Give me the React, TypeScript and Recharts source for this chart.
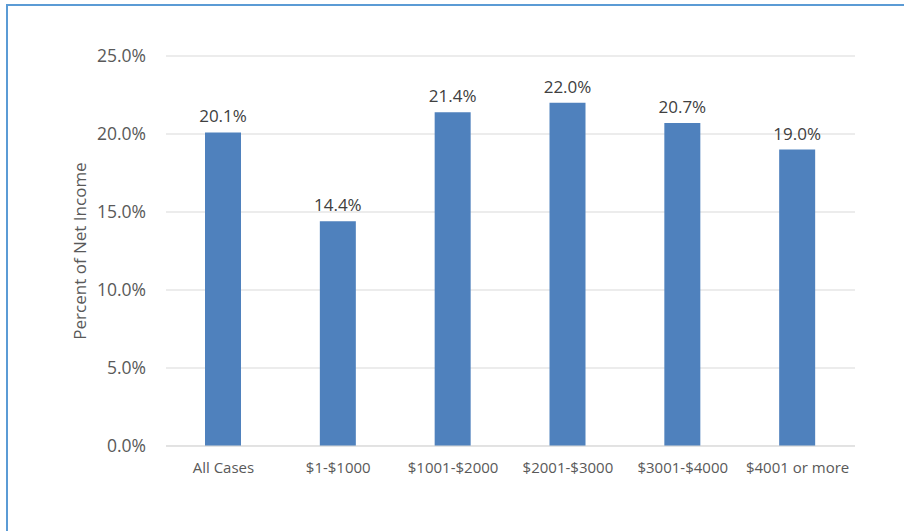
import React from 'react';
import { BarChart, Bar, XAxis, YAxis, CartesianGrid, LabelList } from 'recharts';

const categories = ['All Cases', '$1-$1000', '$1001-$2000', '$2001-$3000', '$3001-$4000', '$4001 or more'];
const percents = [20.1, 14.4, 21.4, 22.0, 20.7, 19.0];
const yTicks = [0, 5, 10, 15, 20, 25];

const data = categories.map((c, i) => ({ name: c, value: percents[i] }));

const FONT = '"Open Sans", Lato, sans-serif';

export default function App() {
  return (
    <div style={{ position: 'absolute', left: 0, top: 0, width: 904, height: 531, background: '#fff', fontFamily: FONT }}>
      <div style={{ position: 'absolute', left: 6, top: 4, width: 898, height: 527, borderLeft: '2px solid #5B9BD5', borderTop: '2px solid #5B9BD5' }} />
      <BarChart
        width={904}
        height={531}
        data={data}
        margin={{ top: 56, right: 49, bottom: 55, left: 0 }}
      >
        <CartesianGrid vertical={false} stroke="#D9D9D9" strokeWidth={1} />
        <XAxis
          dataKey="name"
          height={30}
          tickLine={false}
          axisLine={{ stroke: '#D9D9D9' }}
          tickSize={0}
          tickMargin={16}
          tick={{ fill: '#595959', fontSize: 15, fontFamily: FONT }}
          interval={0}
        />
        <YAxis
          width={166}
          domain={[0, 25]}
          ticks={yTicks}
          tickFormatter={(v: number) => v.toFixed(1) + '%'}
          tickLine={false}
          axisLine={false}
          tickSize={20}
          tickMargin={0}
          tick={{ fill: '#595959', fontSize: 17.5, fontFamily: FONT }}
          label={{ value: 'Percent of Net Income', angle: -90, position: 'center', dx: -3, fill: '#595959', fontSize: 17, fontFamily: FONT }}
        />
        <Bar dataKey="value" fill="#4F81BD" barSize={36} isAnimationActive={false}>
          <LabelList
            dataKey="value"
            position="top"
            offset={10}
            formatter={(v: number) => v.toFixed(1) + '%'}
            style={{ fill: '#404040', fontSize: 17, fontFamily: FONT }}
          />
        </Bar>
      </BarChart>
    </div>
  );
}
